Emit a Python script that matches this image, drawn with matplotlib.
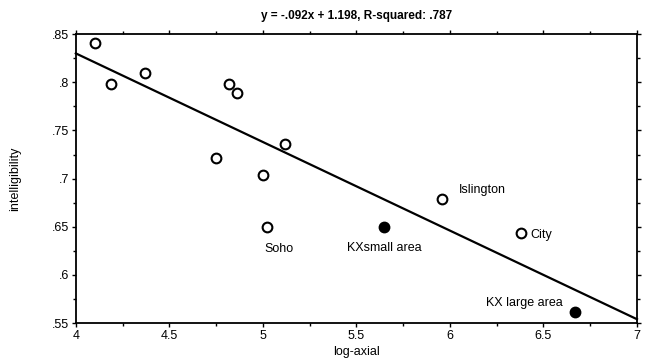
import numpy as np
import matplotlib.pyplot as plt
from matplotlib.ticker import FuncFormatter, MultipleLocator

plt.rcParams['font.family'] = ['Liberation Sans', 'DejaVu Sans']

# open circles: other areas
open_x = [4.10, 4.19, 4.37, 4.82, 4.86, 4.75, 5.12, 5.00, 5.02, 5.96, 6.38]
open_y = [0.841, 0.798, 0.810, 0.798, 0.789, 0.721, 0.736, 0.704, 0.650, 0.679, 0.643]
# filled circles: King's Cross
kx_x = [5.65, 6.67]
kx_y = [0.650, 0.561]

slope = -0.092
intercept = 1.198

labels = ['Soho', 'KXsmall area', 'Islington', 'City', 'KX large area']
label_x = [5.02, 5.65, 5.96, 6.38, 6.67]
label_y = [0.650, 0.650, 0.679, 0.643, 0.561]
label_off = [(9, -16), (0, -15), (12, 6), (7, -1), (-9, 7)]
label_ha = ['center', 'center', 'left', 'left', 'right']

fig = plt.figure(figsize=(6.48, 3.63), dpi=100)
ax = fig.add_axes([0.117, 0.110, 0.866, 0.796])

xs = np.array([4, 7])
ax.plot(xs, slope * xs + intercept, color='black', lw=1.6, clip_on=False)
ax.plot(open_x, open_y, 'o', mfc='white', mec='black', ms=7, mew=1.5)
ax.plot(kx_x, kx_y, 'o', mfc='black', mec='black', ms=7, mew=1.5)

for t, x, y, off, ha in zip(labels, label_x, label_y, label_off, label_ha):
    ax.annotate(t, (x, y), xytext=off, textcoords='offset points',
                ha=ha, va='center', fontsize=9)

ax.set_xlim(4, 7)
ax.set_ylim(0.55, 0.85)
ax.xaxis.set_major_locator(MultipleLocator(0.5))
ax.xaxis.set_minor_locator(MultipleLocator(0.25))
ax.yaxis.set_major_locator(MultipleLocator(0.05))
ax.yaxis.set_minor_locator(MultipleLocator(0.025))
ax.xaxis.set_major_formatter(FuncFormatter(lambda v, p: f'{v:g}'))
ax.yaxis.set_major_formatter(FuncFormatter(lambda v, p: f'{v:g}'.lstrip('0')))
ax.tick_params(which='both', direction='out', top=True, right=True, labelsize=9, width=1)
ax.tick_params(which='major', length=3, pad=2)
ax.tick_params(which='minor', length=2)
for s in ax.spines.values():
    s.set_linewidth(1.3)

ax.set_xlabel('log-axial', fontsize=9, labelpad=3)
ax.set_ylabel('intelligibility', fontsize=9, labelpad=22)
ax.set_title('y = -.092x + 1.198, R-squared: .787', fontsize=8.5, fontweight='bold', pad=11)

fig.savefig('out.png', dpi=100)
